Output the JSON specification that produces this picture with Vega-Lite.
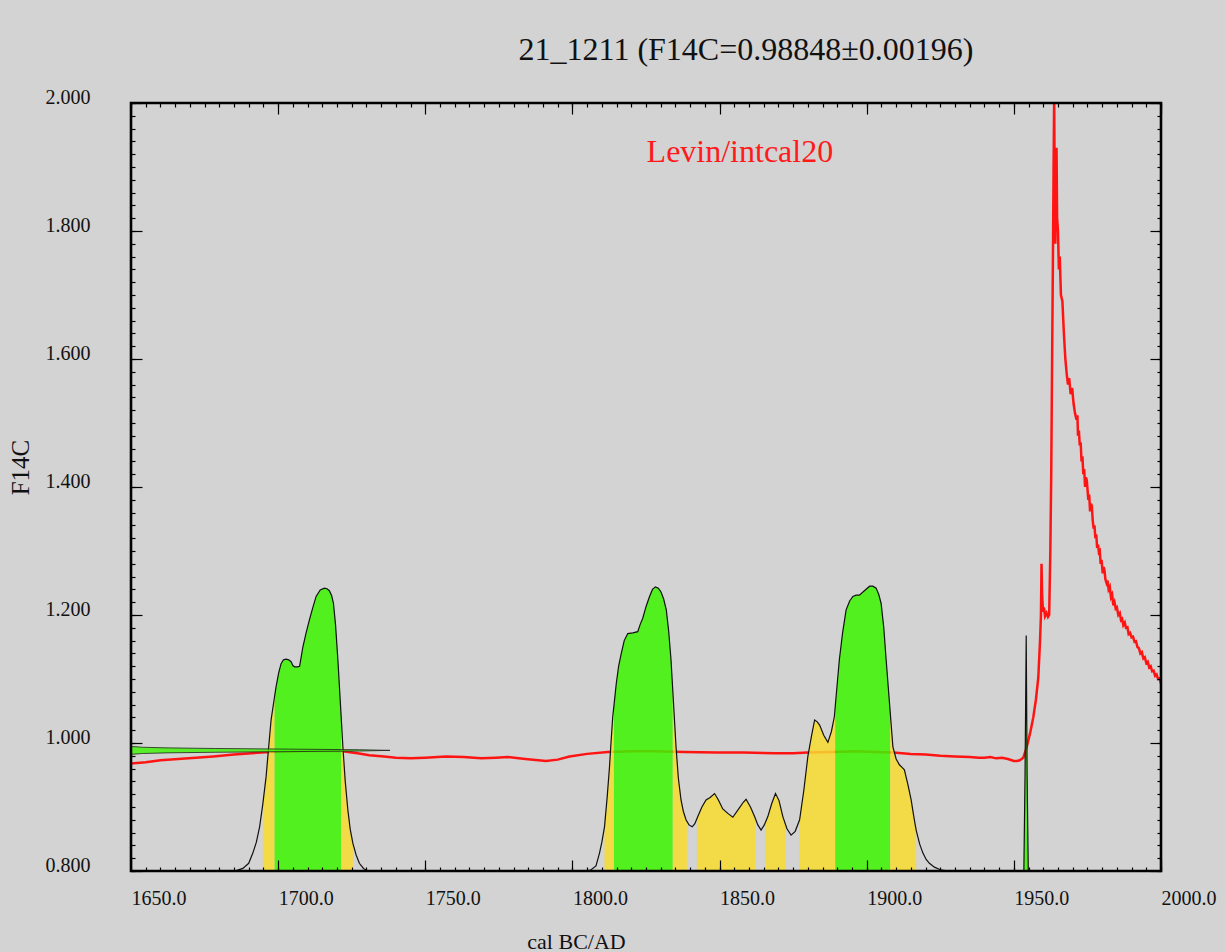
{
  "$schema": "https://vega.github.io/schema/vega-lite/v6.json",
  "width": 1030,
  "height": 768,
  "autosize": {"type": "none"},
  "padding": {"left": 131, "top": 103, "right": 64, "bottom": 81},
  "background": "#d3d3d3",
  "config": {
    "view": {"stroke": null, "fill": null},
    "axis": {"domain": false, "grid": false, "title": null, "labelFont": "Liberation Serif", "titleFont": "Liberation Serif", "tickColor": "black", "labelColor": "#111111", "titleColor": "#111111", "titleFontWeight": "normal"}
  },
  "title": {"text": "21_1211 (F14C=0.98848±0.00196)", "font": "Liberation Serif", "fontSize": 32, "fontWeight": "normal", "color": "#111111", "anchor": "middle", "dx": 100, "baseline": "alphabetic", "offset": -5},
  "datasets": {
    "red": [
      {"year": 1650, "f": 0.968}, {"year": 1655, "f": 0.970}, {"year": 1660, "f": 0.973}, {"year": 1666, "f": 0.975},
      {"year": 1672, "f": 0.977}, {"year": 1678, "f": 0.979}, {"year": 1685, "f": 0.982}, {"year": 1691, "f": 0.984},
      {"year": 1697, "f": 0.986}, {"year": 1705, "f": 0.987}, {"year": 1715, "f": 0.988}, {"year": 1722, "f": 0.987},
      {"year": 1727, "f": 0.984}, {"year": 1731, "f": 0.981}, {"year": 1736, "f": 0.979}, {"year": 1740, "f": 0.977},
      {"year": 1745, "f": 0.976}, {"year": 1750, "f": 0.977}, {"year": 1757, "f": 0.979}, {"year": 1763, "f": 0.978},
      {"year": 1769, "f": 0.976}, {"year": 1774, "f": 0.977}, {"year": 1778, "f": 0.978}, {"year": 1784, "f": 0.975},
      {"year": 1791, "f": 0.972}, {"year": 1795, "f": 0.974}, {"year": 1799, "f": 0.979}, {"year": 1805, "f": 0.983},
      {"year": 1812, "f": 0.986}, {"year": 1820, "f": 0.987}, {"year": 1828, "f": 0.987}, {"year": 1838, "f": 0.986},
      {"year": 1849, "f": 0.985}, {"year": 1858, "f": 0.985}, {"year": 1869, "f": 0.984}, {"year": 1875, "f": 0.984},
      {"year": 1880, "f": 0.985}, {"year": 1888, "f": 0.986}, {"year": 1896, "f": 0.987}, {"year": 1903, "f": 0.986},
      {"year": 1909, "f": 0.985}, {"year": 1915, "f": 0.983}, {"year": 1920, "f": 0.982}, {"year": 1925, "f": 0.980},
      {"year": 1930, "f": 0.979}, {"year": 1935, "f": 0.978}, {"year": 1938, "f": 0.977}, {"year": 1940, "f": 0.977},
      {"year": 1942, "f": 0.978}, {"year": 1944, "f": 0.976}, {"year": 1946, "f": 0.977}, {"year": 1948, "f": 0.975},
      {"year": 1950, "f": 0.972}, {"year": 1951, "f": 0.972}, {"year": 1952, "f": 0.973}, {"year": 1953.2, "f": 0.977},
      {"year": 1954.0, "f": 0.988}, {"year": 1954.6, "f": 0.998}, {"year": 1955.5, "f": 1.015}, {"year": 1956.6, "f": 1.040},
      {"year": 1957.5, "f": 1.068}, {"year": 1958.3, "f": 1.102}, {"year": 1958.9, "f": 1.160}, {"year": 1959.2, "f": 1.199},
      {"year": 1959.4, "f": 1.280}, {"year": 1959.6, "f": 1.232}, {"year": 1959.9, "f": 1.205}, {"year": 1960.2, "f": 1.212},
      {"year": 1960.6, "f": 1.198}, {"year": 1961.1, "f": 1.203}, {"year": 1961.6, "f": 1.197}, {"year": 1962.0, "f": 1.200},
      {"year": 1962.4, "f": 1.300}, {"year": 1962.7, "f": 1.420}, {"year": 1963.0, "f": 1.600}, {"year": 1963.3, "f": 1.770},
      {"year": 1963.5, "f": 1.900}, {"year": 1963.7, "f": 2.010}, {"year": 1963.9, "f": 1.850}, {"year": 1964.1, "f": 1.780},
      {"year": 1964.3, "f": 1.880}, {"year": 1964.5, "f": 1.930}, {"year": 1964.7, "f": 1.820}, {"year": 1965.0, "f": 1.800},
      {"year": 1965.3, "f": 1.740}, {"year": 1965.6, "f": 1.760}, {"year": 1966.0, "f": 1.700}, {"year": 1966.5, "f": 1.690},
      {"year": 1967.0, "f": 1.640}, {"year": 1967.5, "f": 1.600}, {"year": 1968.0, "f": 1.575}, {"year": 1968.4, "f": 1.560},
      {"year": 1968.8, "f": 1.570}, {"year": 1969.3, "f": 1.545}, {"year": 1969.8, "f": 1.555}, {"year": 1970.3, "f": 1.530},
      {"year": 1970.8, "f": 1.515}, {"year": 1971.3, "f": 1.505}, {"year": 1971.6, "f": 1.512}, {"year": 1971.8, "f": 1.480},
      {"year": 1972.1, "f": 1.488}, {"year": 1972.4, "f": 1.465}, {"year": 1972.7, "f": 1.470}, {"year": 1973.0, "f": 1.440},
      {"year": 1973.3, "f": 1.448}, {"year": 1973.6, "f": 1.420}, {"year": 1973.9, "f": 1.428}, {"year": 1974.2, "f": 1.400},
      {"year": 1974.5, "f": 1.415}, {"year": 1974.8, "f": 1.410}, {"year": 1975.1, "f": 1.392}, {"year": 1975.3, "f": 1.380},
      {"year": 1975.6, "f": 1.388}, {"year": 1975.9, "f": 1.362}, {"year": 1976.2, "f": 1.374}, {"year": 1976.5, "f": 1.370},
      {"year": 1976.8, "f": 1.348}, {"year": 1977.1, "f": 1.335}, {"year": 1977.4, "f": 1.340}, {"year": 1977.7, "f": 1.320},
      {"year": 1978.0, "f": 1.326}, {"year": 1978.3, "f": 1.305}, {"year": 1978.6, "f": 1.310}, {"year": 1978.9, "f": 1.298},
      {"year": 1979.2, "f": 1.300}, {"year": 1979.5, "f": 1.280}, {"year": 1979.8, "f": 1.286}, {"year": 1980.2, "f": 1.265},
      {"year": 1980.5, "f": 1.275}, {"year": 1980.8, "f": 1.270}, {"year": 1981.1, "f": 1.256}, {"year": 1981.5, "f": 1.250},
      {"year": 1981.8, "f": 1.254}, {"year": 1982.2, "f": 1.240}, {"year": 1982.6, "f": 1.244}, {"year": 1983.0, "f": 1.228},
      {"year": 1983.4, "f": 1.232}, {"year": 1983.8, "f": 1.215}, {"year": 1984.2, "f": 1.220}, {"year": 1984.6, "f": 1.210},
      {"year": 1985.0, "f": 1.212}, {"year": 1985.5, "f": 1.200}, {"year": 1986.0, "f": 1.203}, {"year": 1986.4, "f": 1.192},
      {"year": 1986.8, "f": 1.194}, {"year": 1987.2, "f": 1.184}, {"year": 1987.7, "f": 1.188}, {"year": 1988.1, "f": 1.180},
      {"year": 1988.6, "f": 1.181}, {"year": 1989.0, "f": 1.170}, {"year": 1989.5, "f": 1.172}, {"year": 1990.0, "f": 1.165},
      {"year": 1990.5, "f": 1.166}, {"year": 1991.0, "f": 1.158}, {"year": 1991.5, "f": 1.159}, {"year": 1992.0, "f": 1.150},
      {"year": 1992.5, "f": 1.148}, {"year": 1993.0, "f": 1.140}, {"year": 1993.5, "f": 1.142}, {"year": 1994.0, "f": 1.132},
      {"year": 1994.5, "f": 1.134}, {"year": 1995.0, "f": 1.125}, {"year": 1995.5, "f": 1.127}, {"year": 1996.0, "f": 1.118},
      {"year": 1996.5, "f": 1.120}, {"year": 1997.0, "f": 1.112}, {"year": 1997.5, "f": 1.113}, {"year": 1998.0, "f": 1.105},
      {"year": 1998.5, "f": 1.107}, {"year": 1999.0, "f": 1.100}, {"year": 1999.5, "f": 1.101}, {"year": 2000.0, "f": 1.093}
    ],
    "pdf": [
      {"seg": "A", "year": 1684.0, "f": 0.800}, {"seg": "A", "year": 1686.0, "f": 0.801}, {"seg": "A", "year": 1688.0, "f": 0.804},
      {"seg": "A", "year": 1690.0, "f": 0.812}, {"seg": "A", "year": 1691.4, "f": 0.828}, {"seg": "A", "year": 1692.6, "f": 0.845},
      {"seg": "A", "year": 1693.7, "f": 0.869}, {"seg": "A", "year": 1694.8, "f": 0.905}, {"seg": "A", "year": 1695.9, "f": 0.947},
      {"seg": "A", "year": 1696.8, "f": 0.995}, {"seg": "A", "year": 1697.6, "f": 1.036}, {"seg": "A", "year": 1698.8, "f": 1.073},
      {"seg": "A", "year": 1699.3, "f": 1.088}, {"seg": "A", "year": 1700.2, "f": 1.110}, {"seg": "A", "year": 1701.0, "f": 1.124},
      {"seg": "A", "year": 1701.8, "f": 1.130}, {"seg": "A", "year": 1702.7, "f": 1.131}, {"seg": "A", "year": 1703.6, "f": 1.130},
      {"seg": "A", "year": 1704.4, "f": 1.127}, {"seg": "A", "year": 1705.0, "f": 1.121}, {"seg": "A", "year": 1705.6, "f": 1.119},
      {"seg": "A", "year": 1706.6, "f": 1.119}, {"seg": "A", "year": 1707.3, "f": 1.120}, {"seg": "A", "year": 1708.4, "f": 1.150},
      {"seg": "A", "year": 1709.5, "f": 1.172}, {"seg": "A", "year": 1710.6, "f": 1.192}, {"seg": "A", "year": 1711.8, "f": 1.212},
      {"seg": "A", "year": 1712.9, "f": 1.229}, {"seg": "A", "year": 1714.3, "f": 1.239}, {"seg": "A", "year": 1715.7, "f": 1.242},
      {"seg": "A", "year": 1716.6, "f": 1.241}, {"seg": "A", "year": 1717.4, "f": 1.238}, {"seg": "A", "year": 1718.2, "f": 1.230},
      {"seg": "A", "year": 1718.8, "f": 1.218}, {"seg": "A", "year": 1719.5, "f": 1.185}, {"seg": "A", "year": 1720.3, "f": 1.130},
      {"seg": "A", "year": 1721.4, "f": 1.042}, {"seg": "A", "year": 1722.0, "f": 0.994}, {"seg": "A", "year": 1722.8, "f": 0.940},
      {"seg": "A", "year": 1723.7, "f": 0.895}, {"seg": "A", "year": 1724.5, "f": 0.865}, {"seg": "A", "year": 1725.4, "f": 0.843},
      {"seg": "A", "year": 1726.5, "f": 0.825}, {"seg": "A", "year": 1727.6, "f": 0.812}, {"seg": "A", "year": 1729.0, "f": 0.804},
      {"seg": "A", "year": 1730.5, "f": 0.800},
      {"seg": "B", "year": 1803.0, "f": 0.800}, {"seg": "B", "year": 1806.0, "f": 0.801}, {"seg": "B", "year": 1808.0, "f": 0.808},
      {"seg": "B", "year": 1809.2, "f": 0.828}, {"seg": "B", "year": 1810.0, "f": 0.845}, {"seg": "B", "year": 1810.9, "f": 0.869},
      {"seg": "B", "year": 1811.8, "f": 0.915}, {"seg": "B", "year": 1812.6, "f": 0.963}, {"seg": "B", "year": 1813.1, "f": 1.000},
      {"seg": "B", "year": 1813.7, "f": 1.041}, {"seg": "B", "year": 1814.1, "f": 1.058}, {"seg": "B", "year": 1814.9, "f": 1.093},
      {"seg": "B", "year": 1815.7, "f": 1.120}, {"seg": "B", "year": 1816.6, "f": 1.140}, {"seg": "B", "year": 1817.6, "f": 1.160},
      {"seg": "B", "year": 1818.8, "f": 1.171}, {"seg": "B", "year": 1820.5, "f": 1.172}, {"seg": "B", "year": 1822.2, "f": 1.174},
      {"seg": "B", "year": 1823.0, "f": 1.185}, {"seg": "B", "year": 1823.9, "f": 1.195}, {"seg": "B", "year": 1825.0, "f": 1.213},
      {"seg": "B", "year": 1826.2, "f": 1.229}, {"seg": "B", "year": 1827.2, "f": 1.240}, {"seg": "B", "year": 1828.2, "f": 1.244},
      {"seg": "B", "year": 1829.2, "f": 1.242}, {"seg": "B", "year": 1830.1, "f": 1.236}, {"seg": "B", "year": 1831.0, "f": 1.225},
      {"seg": "B", "year": 1831.9, "f": 1.208}, {"seg": "B", "year": 1832.7, "f": 1.175}, {"seg": "B", "year": 1833.5, "f": 1.130},
      {"seg": "B", "year": 1834.1, "f": 1.082}, {"seg": "B", "year": 1835.2, "f": 0.994}, {"seg": "B", "year": 1836.0, "f": 0.945},
      {"seg": "B", "year": 1836.9, "f": 0.911}, {"seg": "B", "year": 1837.7, "f": 0.893}, {"seg": "B", "year": 1838.6, "f": 0.880},
      {"seg": "B", "year": 1839.6, "f": 0.872}, {"seg": "B", "year": 1840.7, "f": 0.869}, {"seg": "B", "year": 1841.6, "f": 0.874},
      {"seg": "B", "year": 1842.6, "f": 0.885}, {"seg": "B", "year": 1844.0, "f": 0.900}, {"seg": "B", "year": 1845.4, "f": 0.911},
      {"seg": "B", "year": 1846.8, "f": 0.915}, {"seg": "B", "year": 1848.3, "f": 0.921}, {"seg": "B", "year": 1849.6, "f": 0.911},
      {"seg": "B", "year": 1851.1, "f": 0.897}, {"seg": "B", "year": 1852.8, "f": 0.890}, {"seg": "B", "year": 1854.5, "f": 0.884},
      {"seg": "B", "year": 1856.5, "f": 0.897}, {"seg": "B", "year": 1858.0, "f": 0.907}, {"seg": "B", "year": 1859.0, "f": 0.912},
      {"seg": "B", "year": 1860.5, "f": 0.900}, {"seg": "B", "year": 1861.9, "f": 0.885}, {"seg": "B", "year": 1863.0, "f": 0.872},
      {"seg": "B", "year": 1864.1, "f": 0.864}, {"seg": "B", "year": 1865.2, "f": 0.872}, {"seg": "B", "year": 1866.4, "f": 0.885},
      {"seg": "B", "year": 1867.7, "f": 0.905}, {"seg": "B", "year": 1869.0, "f": 0.921}, {"seg": "B", "year": 1870.2, "f": 0.910},
      {"seg": "B", "year": 1871.5, "f": 0.885}, {"seg": "B", "year": 1872.9, "f": 0.866}, {"seg": "B", "year": 1874.3, "f": 0.856},
      {"seg": "B", "year": 1875.7, "f": 0.862}, {"seg": "B", "year": 1877.2, "f": 0.880}, {"seg": "B", "year": 1878.6, "f": 0.925},
      {"seg": "B", "year": 1880.0, "f": 0.979}, {"seg": "B", "year": 1881.2, "f": 1.010}, {"seg": "B", "year": 1882.3, "f": 1.036},
      {"seg": "B", "year": 1883.2, "f": 1.033}, {"seg": "B", "year": 1884.0, "f": 1.028}, {"seg": "B", "year": 1885.4, "f": 1.012},
      {"seg": "B", "year": 1886.8, "f": 1.001}, {"seg": "B", "year": 1888.0, "f": 1.018}, {"seg": "B", "year": 1889.0, "f": 1.041},
      {"seg": "B", "year": 1889.3, "f": 1.057}, {"seg": "B", "year": 1890.7, "f": 1.130}, {"seg": "B", "year": 1891.8, "f": 1.172},
      {"seg": "B", "year": 1893.0, "f": 1.208}, {"seg": "B", "year": 1894.2, "f": 1.222}, {"seg": "B", "year": 1895.3, "f": 1.229},
      {"seg": "B", "year": 1896.4, "f": 1.231}, {"seg": "B", "year": 1897.5, "f": 1.231}, {"seg": "B", "year": 1899.2, "f": 1.238},
      {"seg": "B", "year": 1901.0, "f": 1.245}, {"seg": "B", "year": 1902.1, "f": 1.245}, {"seg": "B", "year": 1903.2, "f": 1.242},
      {"seg": "B", "year": 1904.1, "f": 1.232}, {"seg": "B", "year": 1904.9, "f": 1.218}, {"seg": "B", "year": 1905.8, "f": 1.180},
      {"seg": "B", "year": 1906.6, "f": 1.130}, {"seg": "B", "year": 1908.0, "f": 1.047}, {"seg": "B", "year": 1908.9, "f": 0.994},
      {"seg": "B", "year": 1910.0, "f": 0.975}, {"seg": "B", "year": 1911.1, "f": 0.966}, {"seg": "B", "year": 1912.0, "f": 0.962},
      {"seg": "B", "year": 1912.8, "f": 0.958}, {"seg": "B", "year": 1914.0, "f": 0.935}, {"seg": "B", "year": 1915.1, "f": 0.911},
      {"seg": "B", "year": 1916.0, "f": 0.885}, {"seg": "B", "year": 1916.8, "f": 0.864}, {"seg": "B", "year": 1918.0, "f": 0.842},
      {"seg": "B", "year": 1919.1, "f": 0.828}, {"seg": "B", "year": 1920.2, "f": 0.818}, {"seg": "B", "year": 1921.3, "f": 0.812},
      {"seg": "B", "year": 1923.0, "f": 0.806}, {"seg": "B", "year": 1925.0, "f": 0.802}, {"seg": "B", "year": 1928.0, "f": 0.800},
      {"seg": "S", "year": 1953.4, "f": 0.800}, {"seg": "S", "year": 1953.8, "f": 0.950}, {"seg": "S", "year": 1954.2, "f": 1.168},
      {"seg": "S", "year": 1954.5, "f": 0.950}, {"seg": "S", "year": 1954.9, "f": 0.800}
    ],
    "hpd": [
      {"level": "95.4%", "part": "Y1", "year": 1694.8, "f": 0.905}, {"level": "95.4%", "part": "Y1", "year": 1695.9, "f": 0.947},
      {"level": "95.4%", "part": "Y1", "year": 1696.8, "f": 0.995}, {"level": "95.4%", "part": "Y1", "year": 1697.6, "f": 1.036},
      {"level": "95.4%", "part": "Y1", "year": 1698.8, "f": 1.073},
      {"level": "68.3%", "part": "G1", "year": 1698.8, "f": 1.073}, {"level": "68.3%", "part": "G1", "year": 1699.3, "f": 1.088},
      {"level": "68.3%", "part": "G1", "year": 1700.2, "f": 1.110}, {"level": "68.3%", "part": "G1", "year": 1701.0, "f": 1.124},
      {"level": "68.3%", "part": "G1", "year": 1701.8, "f": 1.130}, {"level": "68.3%", "part": "G1", "year": 1702.7, "f": 1.131},
      {"level": "68.3%", "part": "G1", "year": 1703.6, "f": 1.130}, {"level": "68.3%", "part": "G1", "year": 1704.4, "f": 1.127},
      {"level": "68.3%", "part": "G1", "year": 1705.0, "f": 1.121}, {"level": "68.3%", "part": "G1", "year": 1705.6, "f": 1.119},
      {"level": "68.3%", "part": "G1", "year": 1706.6, "f": 1.119}, {"level": "68.3%", "part": "G1", "year": 1707.3, "f": 1.120},
      {"level": "68.3%", "part": "G1", "year": 1708.4, "f": 1.150}, {"level": "68.3%", "part": "G1", "year": 1709.5, "f": 1.172},
      {"level": "68.3%", "part": "G1", "year": 1710.6, "f": 1.192}, {"level": "68.3%", "part": "G1", "year": 1711.8, "f": 1.212},
      {"level": "68.3%", "part": "G1", "year": 1712.9, "f": 1.229}, {"level": "68.3%", "part": "G1", "year": 1714.3, "f": 1.239},
      {"level": "68.3%", "part": "G1", "year": 1715.7, "f": 1.242}, {"level": "68.3%", "part": "G1", "year": 1716.6, "f": 1.241},
      {"level": "68.3%", "part": "G1", "year": 1717.4, "f": 1.238}, {"level": "68.3%", "part": "G1", "year": 1718.2, "f": 1.230},
      {"level": "68.3%", "part": "G1", "year": 1718.8, "f": 1.218}, {"level": "68.3%", "part": "G1", "year": 1719.5, "f": 1.185},
      {"level": "68.3%", "part": "G1", "year": 1720.3, "f": 1.130}, {"level": "68.3%", "part": "G1", "year": 1721.4, "f": 1.042},
      {"level": "95.4%", "part": "Y2", "year": 1721.4, "f": 1.042}, {"level": "95.4%", "part": "Y2", "year": 1722.0, "f": 0.994},
      {"level": "95.4%", "part": "Y2", "year": 1722.8, "f": 0.940}, {"level": "95.4%", "part": "Y2", "year": 1723.7, "f": 0.895},
      {"level": "95.4%", "part": "Y2", "year": 1724.5, "f": 0.865}, {"level": "95.4%", "part": "Y2", "year": 1725.4, "f": 0.843},
      {"level": "95.4%", "part": "Y3", "year": 1810.9, "f": 0.869}, {"level": "95.4%", "part": "Y3", "year": 1811.8, "f": 0.915},
      {"level": "95.4%", "part": "Y3", "year": 1812.6, "f": 0.963}, {"level": "95.4%", "part": "Y3", "year": 1813.1, "f": 1.000},
      {"level": "95.4%", "part": "Y3", "year": 1813.7, "f": 1.041}, {"level": "95.4%", "part": "Y3", "year": 1814.1, "f": 1.058},
      {"level": "68.3%", "part": "G2", "year": 1814.1, "f": 1.058}, {"level": "68.3%", "part": "G2", "year": 1814.9, "f": 1.093},
      {"level": "68.3%", "part": "G2", "year": 1815.7, "f": 1.120}, {"level": "68.3%", "part": "G2", "year": 1816.6, "f": 1.140},
      {"level": "68.3%", "part": "G2", "year": 1817.6, "f": 1.160}, {"level": "68.3%", "part": "G2", "year": 1818.8, "f": 1.171},
      {"level": "68.3%", "part": "G2", "year": 1820.5, "f": 1.172}, {"level": "68.3%", "part": "G2", "year": 1822.2, "f": 1.174},
      {"level": "68.3%", "part": "G2", "year": 1823.0, "f": 1.185}, {"level": "68.3%", "part": "G2", "year": 1823.9, "f": 1.195},
      {"level": "68.3%", "part": "G2", "year": 1825.0, "f": 1.213}, {"level": "68.3%", "part": "G2", "year": 1826.2, "f": 1.229},
      {"level": "68.3%", "part": "G2", "year": 1827.2, "f": 1.240}, {"level": "68.3%", "part": "G2", "year": 1828.2, "f": 1.244},
      {"level": "68.3%", "part": "G2", "year": 1829.2, "f": 1.242}, {"level": "68.3%", "part": "G2", "year": 1830.1, "f": 1.236},
      {"level": "68.3%", "part": "G2", "year": 1831.0, "f": 1.225}, {"level": "68.3%", "part": "G2", "year": 1831.9, "f": 1.208},
      {"level": "68.3%", "part": "G2", "year": 1832.7, "f": 1.175}, {"level": "68.3%", "part": "G2", "year": 1833.5, "f": 1.130},
      {"level": "68.3%", "part": "G2", "year": 1834.1, "f": 1.082},
      {"level": "95.4%", "part": "Y4", "year": 1834.1, "f": 1.082}, {"level": "95.4%", "part": "Y4", "year": 1835.2, "f": 0.994},
      {"level": "95.4%", "part": "Y4", "year": 1836.0, "f": 0.945}, {"level": "95.4%", "part": "Y4", "year": 1836.9, "f": 0.911},
      {"level": "95.4%", "part": "Y4", "year": 1837.7, "f": 0.893}, {"level": "95.4%", "part": "Y4", "year": 1838.6, "f": 0.880},
      {"level": "95.4%", "part": "Y4", "year": 1838.9, "f": 0.878},
      {"level": "95.4%", "part": "Y5", "year": 1842.3, "f": 0.881}, {"level": "95.4%", "part": "Y5", "year": 1842.6, "f": 0.885},
      {"level": "95.4%", "part": "Y5", "year": 1844.0, "f": 0.900}, {"level": "95.4%", "part": "Y5", "year": 1845.4, "f": 0.911},
      {"level": "95.4%", "part": "Y5", "year": 1846.8, "f": 0.915}, {"level": "95.4%", "part": "Y5", "year": 1848.3, "f": 0.921},
      {"level": "95.4%", "part": "Y5", "year": 1849.6, "f": 0.911}, {"level": "95.4%", "part": "Y5", "year": 1851.1, "f": 0.897},
      {"level": "95.4%", "part": "Y5", "year": 1852.8, "f": 0.890}, {"level": "95.4%", "part": "Y5", "year": 1854.5, "f": 0.884},
      {"level": "95.4%", "part": "Y5", "year": 1856.5, "f": 0.897}, {"level": "95.4%", "part": "Y5", "year": 1858.0, "f": 0.907},
      {"level": "95.4%", "part": "Y5", "year": 1859.0, "f": 0.912}, {"level": "95.4%", "part": "Y5", "year": 1860.5, "f": 0.900},
      {"level": "95.4%", "part": "Y5", "year": 1861.9, "f": 0.885}, {"level": "95.4%", "part": "Y5", "year": 1862.1, "f": 0.883},
      {"level": "95.4%", "part": "Y6", "year": 1865.5, "f": 0.873}, {"level": "95.4%", "part": "Y6", "year": 1866.4, "f": 0.885},
      {"level": "95.4%", "part": "Y6", "year": 1867.7, "f": 0.905}, {"level": "95.4%", "part": "Y6", "year": 1869.0, "f": 0.921},
      {"level": "95.4%", "part": "Y6", "year": 1870.2, "f": 0.910}, {"level": "95.4%", "part": "Y6", "year": 1871.5, "f": 0.885},
      {"level": "95.4%", "part": "Y6", "year": 1872.4, "f": 0.872},
      {"level": "95.4%", "part": "Y7", "year": 1877.2, "f": 0.880}, {"level": "95.4%", "part": "Y7", "year": 1878.6, "f": 0.925},
      {"level": "95.4%", "part": "Y7", "year": 1880.0, "f": 0.979}, {"level": "95.4%", "part": "Y7", "year": 1881.2, "f": 1.010},
      {"level": "95.4%", "part": "Y7", "year": 1882.3, "f": 1.036}, {"level": "95.4%", "part": "Y7", "year": 1883.2, "f": 1.033},
      {"level": "95.4%", "part": "Y7", "year": 1884.0, "f": 1.028}, {"level": "95.4%", "part": "Y7", "year": 1885.4, "f": 1.012},
      {"level": "95.4%", "part": "Y7", "year": 1886.8, "f": 1.001}, {"level": "95.4%", "part": "Y7", "year": 1888.0, "f": 1.018},
      {"level": "95.4%", "part": "Y7", "year": 1889.0, "f": 1.041}, {"level": "95.4%", "part": "Y7", "year": 1889.3, "f": 1.057},
      {"level": "68.3%", "part": "G3", "year": 1889.3, "f": 1.057}, {"level": "68.3%", "part": "G3", "year": 1890.7, "f": 1.130},
      {"level": "68.3%", "part": "G3", "year": 1891.8, "f": 1.172}, {"level": "68.3%", "part": "G3", "year": 1893.0, "f": 1.208},
      {"level": "68.3%", "part": "G3", "year": 1894.2, "f": 1.222}, {"level": "68.3%", "part": "G3", "year": 1895.3, "f": 1.229},
      {"level": "68.3%", "part": "G3", "year": 1896.4, "f": 1.231}, {"level": "68.3%", "part": "G3", "year": 1897.5, "f": 1.231},
      {"level": "68.3%", "part": "G3", "year": 1899.2, "f": 1.238}, {"level": "68.3%", "part": "G3", "year": 1901.0, "f": 1.245},
      {"level": "68.3%", "part": "G3", "year": 1902.1, "f": 1.245}, {"level": "68.3%", "part": "G3", "year": 1903.2, "f": 1.242},
      {"level": "68.3%", "part": "G3", "year": 1904.1, "f": 1.232}, {"level": "68.3%", "part": "G3", "year": 1904.9, "f": 1.218},
      {"level": "68.3%", "part": "G3", "year": 1905.8, "f": 1.180}, {"level": "68.3%", "part": "G3", "year": 1906.6, "f": 1.130},
      {"level": "68.3%", "part": "G3", "year": 1908.0, "f": 1.047},
      {"level": "95.4%", "part": "Y8", "year": 1908.0, "f": 1.047}, {"level": "95.4%", "part": "Y8", "year": 1908.9, "f": 0.994},
      {"level": "95.4%", "part": "Y8", "year": 1910.0, "f": 0.975}, {"level": "95.4%", "part": "Y8", "year": 1911.1, "f": 0.966},
      {"level": "95.4%", "part": "Y8", "year": 1912.0, "f": 0.962}, {"level": "95.4%", "part": "Y8", "year": 1912.8, "f": 0.958},
      {"level": "95.4%", "part": "Y8", "year": 1914.0, "f": 0.935}, {"level": "95.4%", "part": "Y8", "year": 1915.1, "f": 0.911},
      {"level": "95.4%", "part": "Y8", "year": 1916.0, "f": 0.885}, {"level": "95.4%", "part": "Y8", "year": 1916.8, "f": 0.864},
      {"level": "68.3%", "part": "G4", "year": 1953.4, "f": 0.800}, {"level": "68.3%", "part": "G4", "year": 1953.8, "f": 0.950},
      {"level": "68.3%", "part": "G4", "year": 1954.2, "f": 1.168}, {"level": "68.3%", "part": "G4", "year": 1954.5, "f": 0.950},
      {"level": "68.3%", "part": "G4", "year": 1954.9, "f": 0.800}
    ],
    "meas": [
      {"f": 0.98260, "reach": 1651.0}, {"f": 0.98358, "reach": 1653.9}, {"f": 0.98456, "reach": 1661.9},
      {"f": 0.98554, "reach": 1678.6}, {"f": 0.98652, "reach": 1703.4}, {"f": 0.98750, "reach": 1727.7},
      {"f": 0.98848, "reach": 1738.0}, {"f": 0.98946, "reach": 1727.7}, {"f": 0.99044, "reach": 1703.4},
      {"f": 0.99142, "reach": 1678.6}, {"f": 0.99240, "reach": 1661.9}, {"f": 0.99338, "reach": 1653.9},
      {"f": 0.99436, "reach": 1651.0}
    ]
  },
  "resolve": {"axis": {"x": "independent", "y": "independent"}},
  "layer": [
    {
      "data": {"name": "red"},
      "mark": {"type": "line", "color": "#ff1414", "strokeWidth": 2.5, "clip": true},
      "encoding": {
        "x": {"field": "year", "type": "quantitative", "scale": {"domain": [1650, 2000], "nice": false, "zero": false},
          "axis": {"orient": "bottom", "ticks": false, "tickSize": 0, "values": [1650, 1700, 1750, 1800, 1850, 1900, 1950, 2000], "format": ".1f",
            "labelFontSize": 20, "labelAlign": "left", "labelBaseline": "alphabetic", "labelPadding": 33, "labelFlush": false, "labelOverlap": false, "labelBound": false,
            "title": "cal BC/AD", "titleFontSize": 22, "titleX": 445, "titleY": 77, "titleAlign": "center", "titleBaseline": "alphabetic"}},
        "y": {"field": "f", "type": "quantitative", "scale": {"domain": [0.8, 2.0], "nice": false, "zero": false},
          "axis": {"orient": "left", "ticks": false, "tickSize": 0, "values": [0.8, 1.0, 1.2, 1.4, 1.6, 1.8, 2.0], "format": ".3f",
            "labelFontSize": 20, "labelBaseline": "alphabetic", "labelPadding": 41, "labelFlush": false, "labelOverlap": false, "labelBound": false,
            "title": "F14C", "titleFontSize": 25, "titleAngle": 270, "titleX": -111, "titleY": 364, "titleAlign": "center", "titleBaseline": "middle"}}
      }
    },
    {
      "data": {"name": "hpd"},
      "mark": {"type": "area", "opacity": 0.85, "interpolate": "linear"},
      "encoding": {
        "x": {"field": "year", "type": "quantitative",
          "axis": {"orient": "bottom", "labels": false, "tickSize": -11, "tickWidth": 1.2, "values": [1650, 1700, 1750, 1800, 1850, 1900, 1950, 2000], "zindex": 2}},
        "y": {"field": "f", "type": "quantitative",
          "axis": {"orient": "left", "labels": false, "tickSize": -11, "tickWidth": 1.2, "values": [0.8, 1.0, 1.2, 1.4, 1.6, 1.8, 2.0], "zindex": 2}},
        "y2": {"datum": 0.8},
        "fill": {"field": "level", "type": "nominal", "scale": {"domain": ["68.3%", "95.4%"], "range": ["#3cf500", "#f8da2e"]}, "legend": null},
        "detail": {"field": "part"}
      }
    },
    {
      "data": {"name": "pdf"},
      "mark": {"type": "line", "color": "#111111", "strokeWidth": 1.2},
      "encoding": {
        "x": {"field": "year", "type": "quantitative",
          "axis": {"orient": "bottom", "labels": false, "tickSize": -4, "tickWidth": 1.2,
            "values": [1650,1655,1660,1665,1670,1675,1680,1685,1690,1695,1700,1705,1710,1715,1720,1725,1730,1735,1740,1745,1750,1755,1760,1765,1770,1775,1780,1785,1790,1795,1800,1805,1810,1815,1820,1825,1830,1835,1840,1845,1850,1855,1860,1865,1870,1875,1880,1885,1890,1895,1900,1905,1910,1915,1920,1925,1930,1935,1940,1945,1950,1955,1960,1965,1970,1975,1980,1985,1990,1995,2000], "zindex": 2}},
        "y": {"field": "f", "type": "quantitative",
          "axis": {"orient": "left", "labels": false, "tickSize": -4, "tickWidth": 1.2,
            "values": [0.8,0.82,0.84,0.86,0.88,0.9,0.92,0.94,0.96,0.98,1.0,1.02,1.04,1.06,1.08,1.1,1.12,1.14,1.16,1.18,1.2,1.22,1.24,1.26,1.28,1.3,1.32,1.34,1.36,1.38,1.4,1.42,1.44,1.46,1.48,1.5,1.52,1.54,1.56,1.58,1.6,1.62,1.64,1.66,1.68,1.7,1.72,1.74,1.76,1.78,1.8,1.82,1.84,1.86,1.88,1.9,1.92,1.94,1.96,1.98,2.0], "zindex": 2}},
        "detail": {"field": "seg"}
      }
    },
    {
      "data": {"name": "meas"},
      "mark": {"type": "area", "orient": "horizontal", "fill": "#3cf500", "fillOpacity": 0.8, "stroke": "#222222", "strokeWidth": 0.8},
      "encoding": {
        "y": {"field": "f", "type": "quantitative",
          "axis": {"orient": "right", "labels": false, "tickSize": -11, "tickWidth": 1.2, "values": [0.8, 1.0, 1.2, 1.4, 1.6, 1.8, 2.0], "zindex": 2}},
        "x": {"field": "reach", "type": "quantitative",
          "axis": {"orient": "top", "labels": false, "tickSize": -11, "tickWidth": 1.2, "values": [1650, 1700, 1750, 1800, 1850, 1900, 1950, 2000], "zindex": 2}},
        "x2": {"datum": 1650}
      }
    },
    {
      "data": {"values": [{"label": "Levin/intcal20"}]},
      "mark": {"type": "text", "align": "left", "baseline": "alphabetic", "font": "Liberation Serif", "fontSize": 32, "color": "#ff1a1a"},
      "encoding": {
        "x": {"datum": 1825.2, "type": "quantitative",
          "axis": {"orient": "top", "labels": false, "tickSize": -4, "tickWidth": 1.2,
            "values": [1650,1655,1660,1665,1670,1675,1680,1685,1690,1695,1700,1705,1710,1715,1720,1725,1730,1735,1740,1745,1750,1755,1760,1765,1770,1775,1780,1785,1790,1795,1800,1805,1810,1815,1820,1825,1830,1835,1840,1845,1850,1855,1860,1865,1870,1875,1880,1885,1890,1895,1900,1905,1910,1915,1920,1925,1930,1935,1940,1945,1950,1955,1960,1965,1970,1975,1980,1985,1990,1995,2000], "zindex": 2}},
        "y": {"datum": 1.908, "type": "quantitative",
          "axis": {"orient": "right", "labels": false, "tickSize": -4, "tickWidth": 1.2,
            "values": [0.8,0.82,0.84,0.86,0.88,0.9,0.92,0.94,0.96,0.98,1.0,1.02,1.04,1.06,1.08,1.1,1.12,1.14,1.16,1.18,1.2,1.22,1.24,1.26,1.28,1.3,1.32,1.34,1.36,1.38,1.4,1.42,1.44,1.46,1.48,1.5,1.52,1.54,1.56,1.58,1.6,1.62,1.64,1.66,1.68,1.7,1.72,1.74,1.76,1.78,1.8,1.82,1.84,1.86,1.88,1.9,1.92,1.94,1.96,1.98,2.0], "zindex": 2}},
        "text": {"field": "label"}
      }
    },
    {
      "data": {"values": [{}]},
      "mark": {"type": "rect", "fill": null, "stroke": "black", "strokeWidth": 2.6},
      "encoding": {
        "x": {"datum": 1650, "type": "quantitative", "axis": null},
        "x2": {"datum": 2000},
        "y": {"datum": 0.8, "type": "quantitative", "axis": null},
        "y2": {"datum": 2.0}
      }
    }
  ]
}
